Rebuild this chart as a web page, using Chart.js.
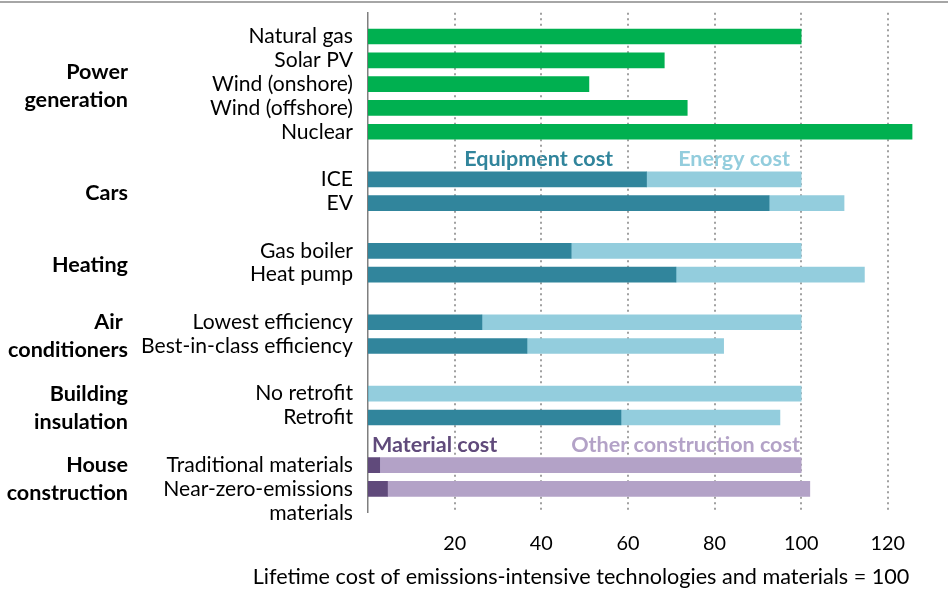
<!DOCTYPE html>
<html>
<head>
<meta charset="utf-8">
<script src="https://cdn.jsdelivr.net/npm/chart.js@4.4.0/dist/chart.umd.min.js"></script>
<style>
html,body{margin:0;padding:0;background:#fff;}
#wrap{width:948px;height:589px;}
</style>
</head>
<body>
<div id="wrap"><canvas id="c" width="948" height="589"></canvas></div>
<script>
// ---- data ----
const rowLabels = ['', 'Natural gas', 'Solar PV', 'Wind (onshore)', 'Wind (offshore)', 'Nuclear', '',
  'ICE', 'EV', '', 'Gas boiler', 'Heat pump', '', 'Lowest efficiency', 'Best-in-class efficiency', '',
  'No retrofit', 'Retrofit', '', 'Traditional materials', 'Near-zero-emissions', 'materials'];

const powerCost = [null, 100, 68.4, 51.0, 73.7, 125.6, null,
  null, null, null, null, null, null, null, null, null,
  null, null, null, null, null, null];
const equipmentCost = [null, null, null, null, null, null, null,
  64.3, 92.6, null, 46.9, 71.1, null, 26.3, 36.7, null,
  0, 58.4, null, null, null, null];
const energyCost = [null, null, null, null, null, null, null,
  35.7, 17.3, null, 53.1, 43.5, null, 73.7, 45.4, null,
  100, 36.7, null, null, null, null];
const materialCost = [null, null, null, null, null, null, null,
  null, null, null, null, null, null, null, null, null,
  null, null, null, 2.7, 4.5, null];
const otherConstructionCost = [null, null, null, null, null, null, null,
  null, null, null, null, null, null, null, null, null,
  null, null, null, 97.3, 97.5, null];

const xTickValues = [20, 40, 60, 80, 100, 120];
const xAxisTitle = 'Lifetime cost of emissions-intensive technologies and materials = 100';

const groupNames = [['Power', 'generation'], ['Cars'], ['Heating'], ['Air ', 'conditioners'], ['Building', 'insulation'], ['House', 'construction']];
const groupRows = [[1, 5], [7, 8], [10, 11], [13, 14], [16, 17], [19, 20]];

const segmentNames = ['Equipment cost', 'Energy cost', 'Material cost', 'Other construction cost'];
const segmentNameRows = [6, 6, 18, 18];
const segmentNameX = [22.2, 71.6, 0.9, 46.9];

// ---- styles ----
const FAMILY = 'Lato, "Open Sans", sans-serif';
const C_GREEN = '#00B050', C_TEAL = '#31859C', C_LBLUE = '#93CDDD', C_DPURP = '#604A7B', C_LPURP = '#B3A2C7';
const segmentColors = [C_TEAL, C_LBLUE, C_DPURP, C_LPURP];

function fit(text, weight, target) {
  const c = document.createElement('canvas').getContext('2d');
  c.font = weight + ' 100px ' + FAMILY;
  return 100 * target / c.measureText(text).width;
}
const yLabelSize = fit('Best-in-class efficiency', 'normal', 212);
const xTickSize = fit('100', 'normal', 34.5);
const titleSize = fit(xAxisTitle, 'normal', 657);
const groupSize = fit('conditioners', 'bold', 120);
const annSize = fit('Equipment cost', 'bold', 149);

const decor = {
  id: 'decor',
  beforeDraw(chart) {
    const ctx = chart.ctx, xs = chart.scales.x, ys = chart.scales.y;
    ctx.save();
    ctx.font = 'bold ' + annSize + 'px ' + FAMILY;
    ctx.textAlign = 'left';
    ctx.textBaseline = 'middle';
    segmentNames.forEach((t, i) => {
      ctx.fillStyle = segmentColors[i];
      ctx.fillText(t, xs.getPixelForValue(segmentNameX[i]), ys.getPixelForValue(segmentNameRows[i]) + 3.5);
    });
    ctx.restore();
  },
  afterDraw(chart) {
    const ctx = chart.ctx, ys = chart.scales.y;
    ctx.save();
    ctx.strokeStyle = '#a6a6a6';
    ctx.lineWidth = 2;
    ctx.beginPath(); ctx.moveTo(0, 2); ctx.lineTo(chart.width, 2); ctx.stroke();
    ctx.fillStyle = '#000';
    ctx.font = 'bold ' + groupSize + 'px ' + FAMILY;
    ctx.textAlign = 'right';
    ctx.textBaseline = 'middle';
    groupNames.forEach((lines, g) => {
      const yc = (ys.getPixelForValue(groupRows[g][0]) + ys.getPixelForValue(groupRows[g][1])) / 2 + 2;
      lines.forEach((t, k) => {
        ctx.fillText(t, 128, yc + (k - (lines.length - 1) / 2) * 28);
      });
    });
    ctx.font = titleSize + 'px ' + FAMILY;
    ctx.textAlign = 'center';
    ctx.fillText(xAxisTitle, 581, 577);
    ctx.restore();
  }
};

new Chart(document.getElementById('c'), {
  type: 'bar',
  data: {
    labels: rowLabels,
    datasets: [
      { label: 'Power generation', data: powerCost, backgroundColor: C_GREEN },
      { label: segmentNames[0], data: equipmentCost, backgroundColor: C_TEAL },
      { label: segmentNames[1], data: energyCost, backgroundColor: C_LBLUE },
      { label: segmentNames[2], data: materialCost, backgroundColor: C_DPURP },
      { label: segmentNames[3], data: otherConstructionCost, backgroundColor: C_LPURP }
    ]
  },
  options: {
    indexAxis: 'y',
    responsive: false,
    animation: false,
    devicePixelRatio: 1,
    barThickness: 15,
    layout: { padding: { top: 12.7, left: 0, right: 0, bottom: 0 } },
    plugins: { legend: { display: false }, tooltip: { enabled: false } },
    scales: {
      x: {
        type: 'linear',
        stacked: true,
        min: 0,
        max: 133.9,
        afterBuildTicks: s => { s.ticks = xTickValues.map(v => ({ value: v })); },
        afterFit: s => { s.height = 76.3; s.paddingLeft = 0; s.paddingRight = 0; },
        ticks: { font: { family: FAMILY, size: xTickSize }, color: '#000', padding: 19, maxRotation: 0, autoSkip: false },
        grid: { color: '#a0a0a0', lineWidth: 2, drawTicks: false },
        border: { display: false, dash: [2, 3.5] }
      },
      y: {
        type: 'category',
        stacked: true,
        offset: false,
        afterFit: s => { s.width = 368; s.paddingTop = 0; s.paddingBottom = 0; },
        ticks: { font: { family: FAMILY, size: yLabelSize }, color: '#000', padding: 15, autoSkip: false },
        grid: { display: false, drawTicks: false },
        border: { display: true, color: '#7f7f7f', width: 1.5 }
      }
    }
  },
  plugins: [decor]
});
</script>
</body>
</html>
